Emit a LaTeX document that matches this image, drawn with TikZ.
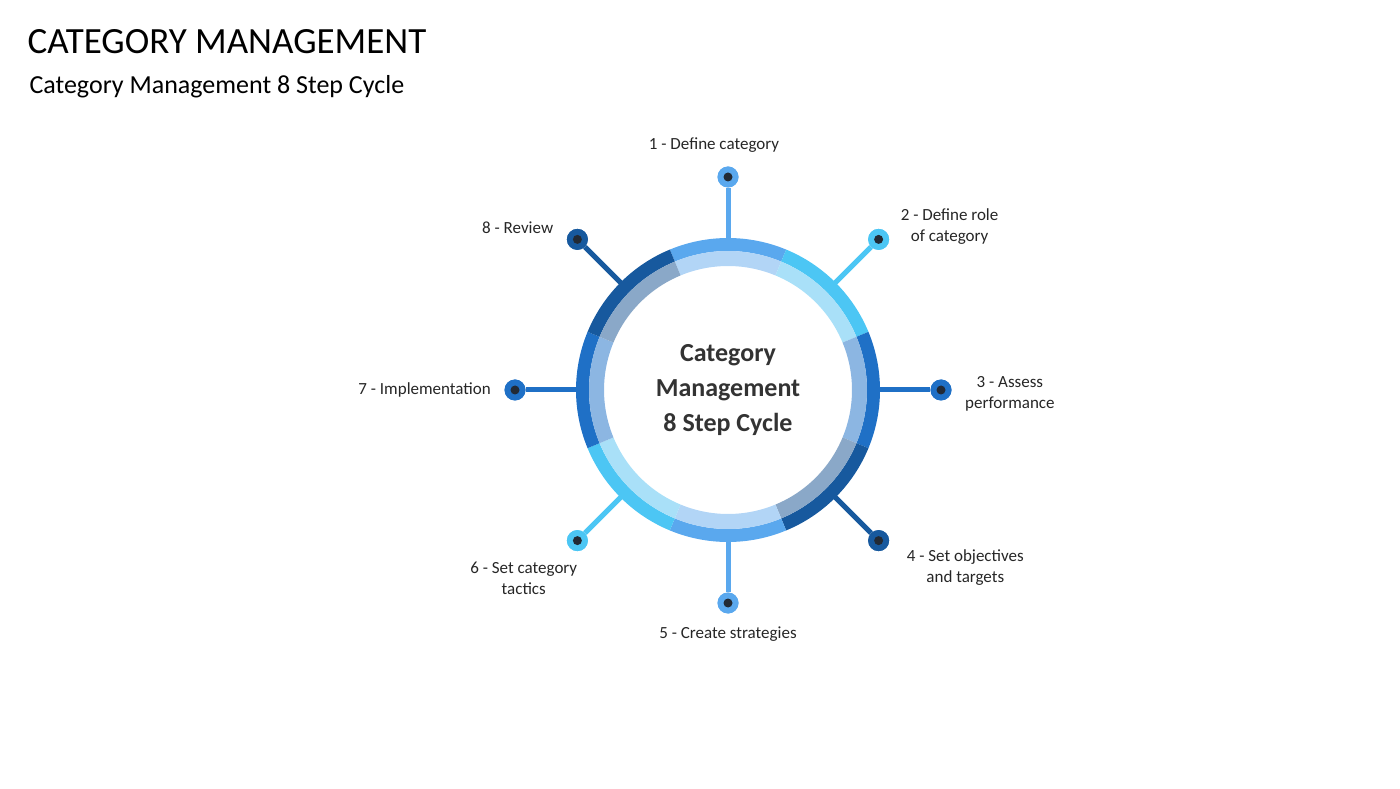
\documentclass[tikz,border=0pt]{standalone}
\usepackage{fontspec}
\setmainfont{Carlito}
\usetikzlibrary{positioning, calc}
\definecolor{midblue}{HTML}{5AA8EE}
\definecolor{midblueL}{HTML}{B2D5F6}
\definecolor{cyan}{HTML}{4CC6F4}
\definecolor{cyanL}{HTML}{A9E0F8}
\definecolor{royal}{HTML}{1F70C6}
\definecolor{royalL}{HTML}{8CB6E2}
\definecolor{navy}{HTML}{17599E}
\definecolor{navyL}{HTML}{8AA8C8}
\definecolor{dotcore}{HTML}{222A35}
\tikzset{
  steptext/.style={font=\fontsize{17}{21}\selectfont, align=center, text=black!85},
  dot/.style={circle, fill=#1, minimum size=21pt, inner sep=0pt,
    path picture={\fill[dotcore] (path picture bounding box.center) circle (4.5pt);}},
  spoke/.style={line width=5pt, draw=#1}
}
\begin{document}
\begin{tikzpicture}[x=1pt,y=1pt]
\useasboundingbox (0,0) rectangle (1400,788);
\node (title) [anchor=west, font=\fontsize{37}{40}\selectfont] at (24,746) {CATEGORY MANAGEMENT};
\node (sub) [anchor=west, font=\fontsize{26}{30}\selectfont] at (26,701) {Category Management 8 Step Cycle};
\coordinate (c) at (728,398);
% ring segments and spokes
\foreach \i/\co/\ci in {1/midblue/midblueL,2/cyan/cyanL,3/royal/royalL,4/navy/navyL,
                        5/midblue/midblueL,6/cyan/cyanL,7/royal/royalL,8/navy/navyL}{
  \pgfmathsetmacro\a{90-45*(\i-1)}
  \fill[\co,shift={(c)}] (\a-22.5:152) arc[start angle=\a-22.5,end angle=\a+22.5,radius=152]
     -- (\a+22.5:139) arc[start angle=\a+22.5,end angle=\a-22.5,radius=139] -- cycle;
  \fill[\ci,shift={(c)}] (\a-22.5:139) arc[start angle=\a-22.5,end angle=\a+22.5,radius=139]
     -- (\a+22.5:124) arc[start angle=\a+22.5,end angle=\a-22.5,radius=124] -- cycle;
  \coordinate (r\i) at ($(c)+(\a:151)$);
  \node (d\i) [dot=\co] at ($(c)+(\a:213)$) {};
  \draw[spoke=\co] (r\i) -- (d\i);
  \node[dot=\co] at (d\i) {};
}
\node (hub) [font=\fontsize{26}{35}\selectfont\bfseries, align=center, text=black!80] at (c)
  {Category\\Management\\8 Step Cycle};
\node (l1) [steptext, above=10pt of d1, xshift=-14pt] {1 - Define category};
\node (l2) [steptext, right=8pt of d2, yshift=13pt] {2 - Define role\\of category};
\node (l3) [steptext, right=10pt of d3, yshift=-4pt] {3 - Assess\\performance};
\node (l4) [steptext, right=14pt of d4, yshift=-27pt] {4 - Set objectives\\and targets};
\node (l5) [steptext, below=10pt of d5] {5 - Create strategies};
\node (l6) [steptext, left=-14pt of d6, yshift=-38pt] {6 - Set category\\tactics};
\node (l7) [steptext, left=10pt of d7] {7 - Implementation};
\node (l8) [steptext, left=10pt of d8, yshift=12pt] {8 - Review};
\end{tikzpicture}
\end{document}
